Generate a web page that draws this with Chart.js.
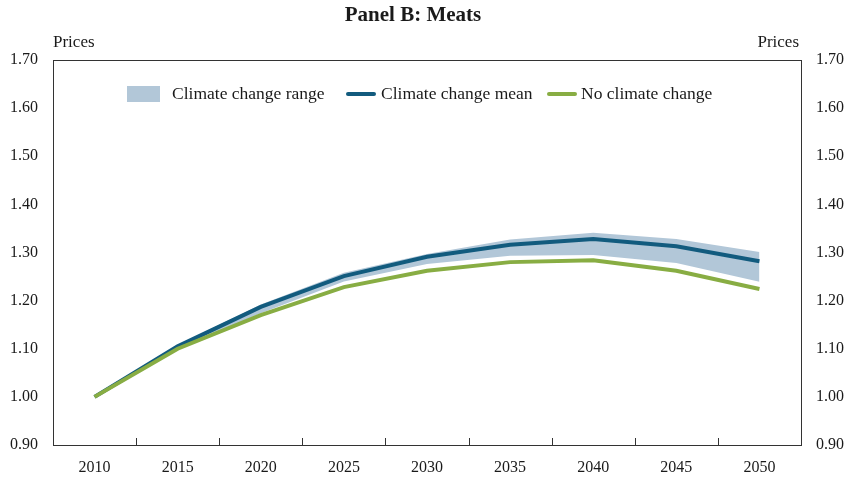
<!DOCTYPE html>
<html>
<head>
<meta charset="utf-8">
<script src="https://cdn.jsdelivr.net/npm/chart.js@4/dist/chart.umd.min.js"></script>
<style>
html,body{margin:0;padding:0;background:#fff;}
#wrap{width:852px;height:479px;position:relative;}
</style>
</head>
<body>
<div id="wrap"><canvas id="c" width="852" height="479"></canvas></div>
<script>
const years = ['2010','2015','2020','2025','2030','2035','2040','2045','2050'];
const ccMean = [1.000,1.105,1.187,1.251,1.291,1.316,1.328,1.313,1.282];
const noCC   = [1.000,1.100,1.170,1.228,1.262,1.280,1.284,1.262,1.224];
const ccHigh = [1.002,1.108,1.192,1.258,1.297,1.327,1.341,1.328,1.301];
const ccLow  = [0.998,1.099,1.174,1.240,1.276,1.293,1.295,1.278,1.239];
const yTicks = [0.90,1.00,1.10,1.20,1.30,1.40,1.50,1.60,1.70];
const titleText = 'Panel B: Meats';
const axisLabel = 'Prices';
const legendLabels = ['Climate change range','Climate change mean','No climate change'];

const FONT = '"Liberation Serif", "Times New Roman", serif';
const C_FILL = '#b2c7d8';
const C_BLUE = '#125b7e';
const C_GREEN = '#88ad43';
const C_AXIS = '#333333';

const decor = {
  id: 'decor',
  afterDraw(chart) {
    const ctx = chart.ctx;
    const a = chart.chartArea;
    const xs = chart.scales.x;
    ctx.save();
    // frame
    ctx.strokeStyle = C_AXIS;
    ctx.lineWidth = 1;
    ctx.strokeRect(Math.round(a.left)+0.5, Math.round(a.top)+0.5, Math.round(a.right-a.left), Math.round(a.bottom-a.top));
    // inner x ticks at category boundaries
    const n = years.length;
    for (let i = 1; i < n; i++) {
      const x = Math.round((xs.getPixelForValue(i-1) + xs.getPixelForValue(i)) / 2) + 0.5;
      ctx.beginPath();
      ctx.moveTo(x, a.bottom);
      ctx.lineTo(x, a.bottom - 7);
      ctx.stroke();
    }
    // title
    ctx.fillStyle = '#1a1a1a';
    ctx.font = 'bold 21px ' + FONT;
    ctx.textAlign = 'center';
    ctx.textBaseline = 'middle';
    ctx.fillText(titleText, 413, 16);
    // axis labels
    ctx.font = '17px ' + FONT;
    ctx.textAlign = 'left';
    ctx.fillText(axisLabel, a.left, 43);
    ctx.textAlign = 'right';
    ctx.fillText(axisLabel, a.right - 2, 43);
    // legend
    const ly = 94;
    ctx.font = '17.5px ' + FONT;
    ctx.textAlign = 'left';
    ctx.fillStyle = C_FILL;
    ctx.fillRect(127, ly - 8, 33, 16);
    ctx.fillStyle = '#1a1a1a';
    ctx.fillText(legendLabels[0], 172, ly);
    ctx.strokeStyle = C_BLUE;
    ctx.lineWidth = 4;
    ctx.lineCap = 'round';
    ctx.beginPath(); ctx.moveTo(348, ly); ctx.lineTo(374, ly); ctx.stroke();
    ctx.fillText(legendLabels[1], 381, ly);
    ctx.strokeStyle = C_GREEN;
    ctx.beginPath(); ctx.moveTo(549, ly); ctx.lineTo(575, ly); ctx.stroke();
    ctx.fillText(legendLabels[2], 581, ly);
    ctx.restore();
  }
};

const yCommon = {
  min: 0.9, max: 1.7,
  grid: {display: false, drawTicks: false},
  border: {display: false},
  afterBuildTicks(scale) { scale.ticks = yTicks.map(v => ({value: v})); },
  ticks: {
    padding: 15,
    color: '#1a1a1a',
    font: {family: FONT, size: 16},
    callback: v => Number(v).toFixed(2)
  }
};

new Chart(document.getElementById('c'), {
  type: 'line',
  data: {
    labels: years,
    datasets: [
      {label: legendLabels[2], data: noCC, borderColor: C_GREEN, borderWidth: 4, pointRadius: 0, fill: false, tension: 0, yAxisID: 'y'},
      {label: legendLabels[1], data: ccMean, borderColor: C_BLUE, borderWidth: 4, pointRadius: 0, fill: false, tension: 0, yAxisID: 'y'},
      {label: 'high', data: ccHigh, borderWidth: 0, borderColor: 'rgba(0,0,0,0)', backgroundColor: C_FILL, pointRadius: 0, fill: '+1', tension: 0, yAxisID: 'y'},
      {label: 'low', data: ccLow, borderWidth: 0, borderColor: 'rgba(0,0,0,0)', backgroundColor: C_FILL, pointRadius: 0, fill: false, tension: 0, yAxisID: 'y'}
    ]
  },
  options: {
    responsive: false,
    animation: false,
    devicePixelRatio: 1,
    layout: {padding: {top: 60, left: 0, right: 0, bottom: 0}},
    plugins: {legend: {display: false}, tooltip: {enabled: false}, title: {display: false}},
    scales: {
      x: {
        offset: true,
        grid: {display: false, drawTicks: false},
        border: {display: false},
        ticks: {padding: 13, color: '#1a1a1a', font: {family: FONT, size: 16}, maxRotation: 0, autoSkip: false},
        afterFit(s) { s.height = 34; }
      },
      y: Object.assign({}, yCommon, {position: 'left', afterFit(s) { s.width = 53; }}),
      y2: Object.assign({}, yCommon, {position: 'right', afterFit(s) { s.width = 51; }})
    }
  },
  plugins: [decor]
});
</script>
</body>
</html>
